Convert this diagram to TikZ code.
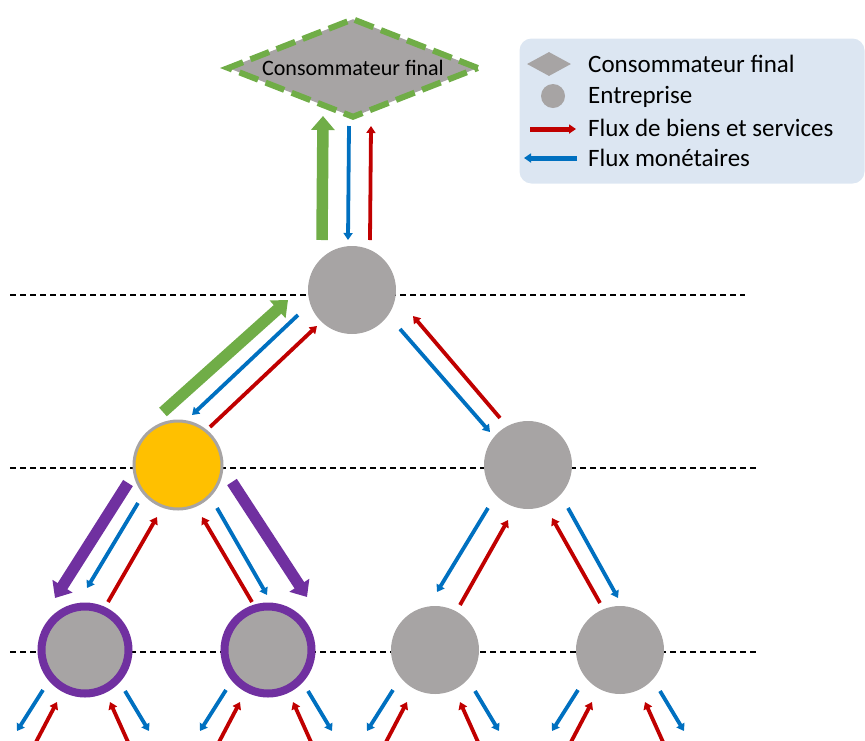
\documentclass[tikz,border=0pt]{standalone}
\usepackage{fontspec}
\setmainfont{Carlito}
\usepackage{tikz}
\usetikzlibrary{arrows.meta,shapes.geometric,calc,positioning}
\definecolor{gris}{RGB}{167,164,164}
\definecolor{vert}{RGB}{112,173,71}
\definecolor{bleu}{RGB}{0,112,192}
\definecolor{rouge}{RGB}{192,0,0}
\definecolor{violet}{RGB}{112,48,160}
\definecolor{jaune}{RGB}{255,192,0}
\definecolor{fondleg}{RGB}{220,230,242}

\begin{document}
\begin{tikzpicture}[x=1pt, y=1pt]
\tikzstyle{firme}=[circle, fill=gris, inner sep=0pt, minimum size=88pt]
\tikzstyle{achat}=[firme, draw=violet, line width=8pt, minimum size=87pt]
\tikzstyle{cible}=[firme, fill=jaune, draw=gris, line width=3pt, minimum size=88pt]
\tikzstyle{conso}=[diamond, aspect=2.5, fill=gris, draw=vert, line width=6pt, dash pattern=on 20pt off 8pt, minimum width=252pt, minimum height=100pt, inner sep=0pt, font=\fontsize{22}{26}\selectfont]
\tikzstyle{niveau}=[dash pattern=on 6pt off 4pt, line width=1.2pt]
\tikzstyle{biens}=[rouge, line width=3.8pt, -{Triangle[length=7pt, width=9pt]}]
\tikzstyle{monnaie}=[bleu, line width=3.8pt, -{Triangle[length=7pt, width=9pt]}]
\tikzstyle{gros}=[line width=11.5pt, -{Triangle[length=14pt, width=23pt]}]
\tikzstyle{legende}=[rectangle, rounded corners=12pt, fill=fondleg, minimum width=345pt, minimum height=145pt, inner sep=0pt]
\tikzstyle{texteleg}=[anchor=west, inner sep=0pt, font=\fontsize{25}{29}\selectfont]

\useasboundingbox (0,0) rectangle (865,-740);

% niveaux
\draw[niveau] (10,-295) -- (745,-295);
\draw[niveau] (10,-468) -- (757,-468);
\draw[niveau] (10,-652) -- (757,-652);

% legende
\node[legende] (leg) at (692,-111) {};
\node[diamond, fill=gris, minimum width=44pt, minimum height=24pt, inner sep=0pt] (legconso) at (549,-64) {};
\node[firme, minimum size=24pt] (legfirme) at (553,-96) {};
\coordinate (legb1) at (530,-129);
\coordinate (legb2) at (576,-129);
\coordinate (legm1) at (577,-158);
\coordinate (legm2) at (524,-158);
\draw[biens, line width=5pt] (legb1) -- (legb2);
\draw[monnaie, line width=5pt] (legm1) -- (legm2);
\node[texteleg] (legt1) at (588,-64)  {Consommateur final};
\node[texteleg] (legt2) at (588,-97)  {Entreprise};
\node[texteleg] (legt3) at (588,-128) {Flux de biens et services};
\node[texteleg] (legt4) at (588,-158) {Flux monétaires};

% noeuds
\node[conso] (client) at (353,-68) {Consommateur final};
\node[firme] (top)   at (352,-290) {};
\node[cible] (left)  at (178,-465) {};
\node[firme] (right) at (528,-465) {};
\node[achat] (LL) at (85,-650)  {};
\node[achat] (LR) at (268,-650) {};
\node[firme] (RL) at (435,-650) {};
\node[firme] (RR) at (620,-650) {};

% vers le consommateur
\draw[gros, vert] ($(top)+(-30,50)$) -- ($(client)+(-30,-48)$);
\draw[monnaie] ($(client)+(-4,-58)$) -- ($(top)+(-4,50)$);
\draw[biens] ($(top)+(18,50)$) -- ($(client)+(18,-58)$);

% premier niveau
\draw[gros, vert] ($(left)+(-15,53)$) -- ($(top)+(-64,-10)$);
\draw[monnaie] ($(top)+(-54,-25)$) -- ($(left)+(14,50)$);
\draw[biens] ($(left)+(32,38)$) -- ($(top)+(-35,-36)$);
\draw[monnaie] ($(top)+(48,-39)$) -- ($(right)+(-38,33)$);
\draw[biens] ($(right)+(-28,47)$) -- ($(top)+(61,-26)$);

% second niveau
\draw[gros, violet] ($(left)+(-50,-18)$) -- ($(LL)+(-30,52)$);
\draw[monnaie] ($(left)+(-40,-38)$) -- ($(LL)+(2,62)$);
\draw[biens] ($(LL)+(23,48)$) -- ($(left)+(-21,-52)$);
\draw[gros, violet] ($(left)+(54,-17)$) -- ($(LR)+(39,53)$);
\draw[monnaie] ($(left)+(39,-43)$) -- ($(LR)+(-1,55)$);
\draw[biens] ($(LR)+(-16,48)$) -- ($(left)+(24,-52)$);

\draw[monnaie] ($(right)+(-40,-43)$) -- ($(RL)+(2,58)$);
\draw[biens] ($(RL)+(25,45)$) -- ($(right)+(-20,-55)$);
\draw[monnaie] ($(right)+(40,-43)$) -- ($(RR)+(-2,52)$);
\draw[biens] ($(RR)+(-20,47)$) -- ($(right)+(24,-53)$);

% troisieme niveau
\draw[monnaie] ($(LL)+(-42,-40)$) -- ($(LL)+(-68,-81)$);
\draw[biens] ($(LL)+(-49,-92)$) -- ($(LL)+(-28,-52)$);
\draw[biens] ($(LL)+(43,-92)$) -- ($(LL)+(25,-52)$);
\draw[monnaie] ($(LL)+(40,-41)$) -- ($(LL)+(64,-81)$);

\draw[monnaie] ($(LR)+(-42,-40)$) -- ($(LR)+(-68,-81)$);
\draw[biens] ($(LR)+(-49,-92)$) -- ($(LR)+(-28,-52)$);
\draw[biens] ($(LR)+(43,-92)$) -- ($(LR)+(25,-52)$);
\draw[monnaie] ($(LR)+(40,-41)$) -- ($(LR)+(64,-81)$);

\draw[monnaie] ($(RL)+(-42,-40)$) -- ($(RL)+(-68,-81)$);
\draw[biens] ($(RL)+(-49,-92)$) -- ($(RL)+(-28,-52)$);
\draw[biens] ($(RL)+(43,-92)$) -- ($(RL)+(25,-52)$);
\draw[monnaie] ($(RL)+(40,-41)$) -- ($(RL)+(64,-81)$);

\draw[monnaie] ($(RR)+(-42,-40)$) -- ($(RR)+(-68,-81)$);
\draw[biens] ($(RR)+(-49,-92)$) -- ($(RR)+(-28,-52)$);
\draw[biens] ($(RR)+(43,-92)$) -- ($(RR)+(25,-52)$);
\draw[monnaie] ($(RR)+(40,-41)$) -- ($(RR)+(64,-81)$);

\end{tikzpicture}
\end{document}
